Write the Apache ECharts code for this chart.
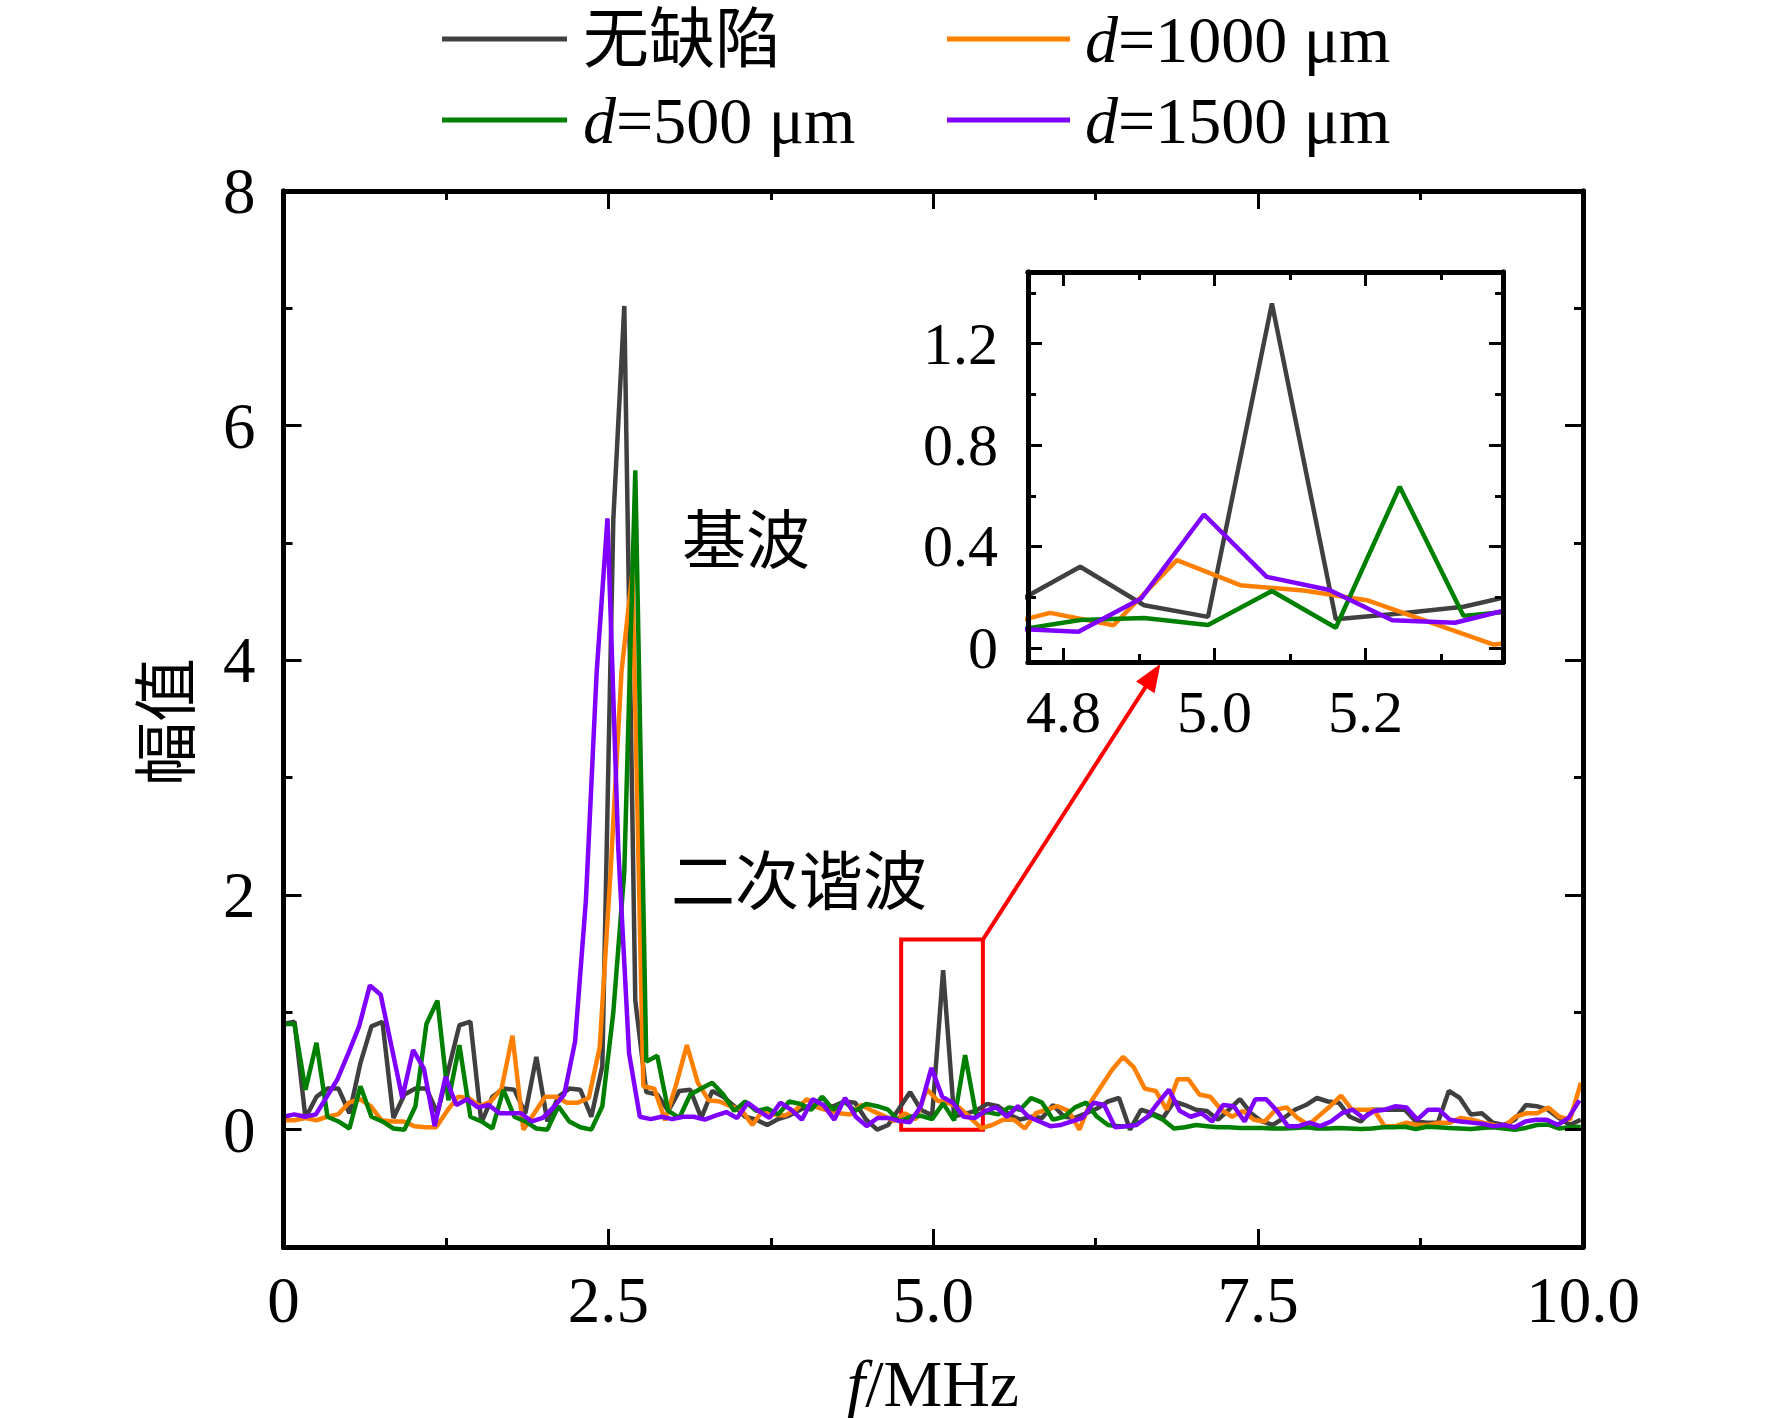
<!DOCTYPE html>
<html>
<head>
<meta charset="utf-8">
<script src="https://cdn.jsdelivr.net/npm/echarts@6/dist/echarts.min.js"></script>
<style>
html,body{margin:0;padding:0;background:#ffffff;}
#chart{width:1772px;height:1418px;}
</style>
</head>
<body>
<div id="chart"></div>
<script>
// ---------------- data ----------------
const seriesNames = ['无缺陷', 'd=1000 μm', 'd=500 μm', 'd=1500 μm'];
const seriesColors = ['#404040', '#FF8000', '#008000', '#8000FF'];
// FFT bin width of each record, MHz per bin (bins start at 0 MHz)
const binWidths = [0.0846, 0.0839, 0.0846, 0.0831];

// amplitude per bin: 无缺陷
const ampNoDefect = [
  0.9, 0.92, 0.1, 0.28, 0.35, 0.35, 0.14, 0.57, 0.88, 0.92,
  0.1, 0.3, 0.35, 0.35, 0.14, 0.51, 0.89, 0.92, 0.06, 0.28,
  0.35, 0.34, 0.14, 0.62, 0.07, 0.28, 0.35, 0.34, 0.11, 0.54,
  5.2, 7.02, 1.1, 0.32, 0.3, 0.16, 0.33, 0.34, 0.1, 0.33,
  0.28, 0.2, 0.11, 0.085, 0.04, 0.09, 0.12, 0.17, 0.21, 0.18,
  0.2, 0.24, 0.23, 0.085, 0.0, 0.04, 0.18, 0.32, 0.168, 0.122,
  1.359, 0.113, 0.135, 0.162, 0.22, 0.2, 0.13, 0.085, 0.11, 0.1,
  0.21, 0.11, 0.1, 0.14, 0.18, 0.24, 0.27, 0.0, 0.17, 0.14,
  0.1, 0.24, 0.21, 0.17, 0.16, 0.085, 0.17, 0.26, 0.14, 0.07,
  0.04, 0.1, 0.17, 0.21, 0.27, 0.24, 0.23, 0.11, 0.07, 0.17,
  0.17, 0.17, 0.17, 0.07, 0.06, 0.06, 0.33, 0.27, 0.13, 0.14,
  0.06, 0.04, 0.085, 0.21, 0.2, 0.17, 0.1, 0.04, 0.085
];
// amplitude per bin: d=1000 μm
const ampD1000 = [
  0.08, 0.08, 0.1, 0.08, 0.11, 0.13, 0.23, 0.26, 0.2, 0.08,
  0.07, 0.07, 0.03, 0.02, 0.02, 0.16, 0.28, 0.27, 0.2, 0.24,
  0.35, 0.8, 0.0, 0.14, 0.28, 0.28, 0.23, 0.23, 0.27, 0.7,
  2.2, 3.9, 4.75, 0.37, 0.35, 0.08, 0.38, 0.72, 0.4, 0.25,
  0.24, 0.2, 0.17, 0.04, 0.17, 0.13, 0.12, 0.17, 0.26, 0.19,
  0.16, 0.14, 0.13, 0.21, 0.16, 0.12, 0.074, 0.138, 0.089, 0.346,
  0.247, 0.226, 0.188, 0.1, 0.013, 0.04, 0.085, 0.085, 0.01, 0.14,
  0.17, 0.2, 0.16, 0.0, 0.23, 0.37, 0.51, 0.62, 0.53, 0.35,
  0.33, 0.17, 0.43, 0.43, 0.3, 0.28, 0.17, 0.11, 0.16, 0.085,
  0.07, 0.17, 0.19, 0.1, 0.04, 0.12, 0.2, 0.29, 0.17, 0.17,
  0.17, 0.03, 0.03, 0.06, 0.04, 0.04, 0.06, 0.06, 0.1, 0.085,
  0.06, 0.04, 0.03, 0.11, 0.14, 0.14, 0.19, 0.11, 0.085, 0.4
];
// amplitude per bin: d=500 μm
const ampD500 = [
  0.9, 0.9, 0.34, 0.74, 0.11, 0.07, 0.01, 0.37, 0.11, 0.07,
  0.01, 0.0, 0.2, 0.9, 1.1, 0.25, 0.72, 0.11, 0.07, 0.01,
  0.34, 0.11, 0.07, 0.01, 0.0, 0.2, 0.07, 0.02, 0.0, 0.2,
  1.0, 2.2, 5.62, 0.58, 0.63, 0.16, 0.1, 0.3, 0.35, 0.4,
  0.3, 0.16, 0.24, 0.16, 0.18, 0.13, 0.24, 0.22, 0.17, 0.28,
  0.17, 0.24, 0.16, 0.22, 0.2, 0.17, 0.07, 0.11, 0.118, 0.09,
  0.224, 0.079, 0.636, 0.126, 0.15, 0.13, 0.19, 0.17, 0.27, 0.23,
  0.085, 0.11, 0.19, 0.23, 0.11, 0.04, 0.03, 0.03, 0.07, 0.13,
  0.085, 0.01, 0.02, 0.04, 0.03, 0.02, 0.02, 0.015, 0.015, 0.015,
  0.01, 0.01, 0.015, 0.02, 0.01, 0.01, 0.015, 0.01, 0.005, 0.01,
  0.02, 0.02, 0.025, 0.005, 0.025, 0.02, 0.015, 0.01, 0.005, 0.015,
  0.02, 0.01, 0.0, 0.015, 0.04, 0.045, 0.01, 0.02, 0.025
];
// amplitude per bin: d=1500 μm
const ampD1500 = [
  0.11, 0.13, 0.11, 0.13, 0.28, 0.43, 0.65, 0.88, 1.23, 1.15,
  0.71, 0.27, 0.68, 0.52, 0.03, 0.45, 0.21, 0.26, 0.19, 0.21,
  0.14, 0.14, 0.14, 0.07, 0.1, 0.19, 0.3, 0.75, 1.95, 3.9,
  5.21, 2.4, 0.65, 0.11, 0.09, 0.11, 0.09, 0.11, 0.11, 0.085,
  0.12, 0.15, 0.1, 0.23, 0.16, 0.1, 0.23, 0.17, 0.085, 0.26,
  0.21, 0.085, 0.27, 0.11, 0.03, 0.1, 0.1, 0.075, 0.063, 0.195,
  0.526, 0.28, 0.228, 0.109, 0.099, 0.16, 0.19, 0.11, 0.2, 0.11,
  0.07, 0.03, 0.04, 0.07, 0.1, 0.23, 0.21, 0.02, 0.03, 0.04,
  0.11, 0.23, 0.34, 0.16, 0.11, 0.14, 0.07, 0.21, 0.2, 0.07,
  0.26, 0.26, 0.16, 0.03, 0.03, 0.06, 0.03, 0.07, 0.14, 0.17,
  0.1, 0.16, 0.17, 0.2, 0.19, 0.085, 0.17, 0.17, 0.085, 0.07,
  0.06, 0.05, 0.03, 0.04, 0.02, 0.07, 0.085, 0.085, 0.04, 0.1, 0.25
];
const amplitudes = [ampNoDefect, ampD1000, ampD500, ampD1500];

// axis ranges and tick values
const mainX = {min: 0, max: 10};
const mainXTicks = [0, 2.5, 5, 7.5, 10];
const mainXMinor = [1.25, 3.75, 6.25, 8.75];
const mainXLabels = ['0', '2.5', '5.0', '7.5', '10.0'];
const mainY = {min: -1, max: 8};
const mainYTicks = [0, 2, 4, 6, 8];
const mainYMinor = [1, 3, 5, 7];
const insetX = {min: 4.753, max: 5.382};
const insetXTicks = [4.8, 5.0, 5.2];
const insetXMinor = [4.9, 5.1, 5.3];
const insetY = {min: -0.056, max: 1.483};
const insetYTicks = [0, 0.4, 0.8, 1.2];
const insetYMinor = [0.2, 0.6, 1.0, 1.4];
const zoomBox = {x0: 4.753, x1: 5.382, y0: 0, y1: 1.62};
const arrowEnd = [6.69, 3.87];
const texts = {xName: '{i|f}/MHz', yName: '幅值', fund: '基波', second: '二次谐波'};

// ---------------- chart ----------------
const FONT = '"Liberation Serif", "Noto Sans CJK SC", serif';
const BLACK = '#000000';

function pairs(amp, df) { return amp.map((v, k) => [k * df, v]); }

function axis(o) {
  const a = {
    type: 'value', gridIndex: o.grid, position: o.pos,
    min: o.min, max: o.max,
    z: o.z || 3,
    axisLine: {show: true, onZero: false, lineStyle: {color: BLACK, width: 5}},
    axisTick: {show: true, inside: true, length: o.len, customValues: o.ticks, lineStyle: {color: BLACK, width: 3}},
    minorTick: {show: false},
    axisLabel: {show: false},
    splitLine: {show: false}, minorSplitLine: {show: false}
  };
  if (o.label) {
    a.axisLabel = {show: true, color: BLACK, fontFamily: FONT, fontSize: o.fs, margin: o.margin,
      customValues: o.ticks, formatter: o.label};
  }
  return a;
}

const xAxes = [
  axis({grid: 0, pos: 'bottom', min: mainX.min, max: mainX.max, ticks: mainXTicks, len: 18,
    fs: 65, margin: 20, label: v => { const i = mainXTicks.findIndex(t => Math.abs(t - v) < 1e-6); return i >= 0 ? mainXLabels[i] : ''; }}),
  axis({grid: 0, pos: 'bottom', min: mainX.min, max: mainX.max, ticks: mainXMinor, len: 9}),
  axis({grid: 0, pos: 'top', min: mainX.min, max: mainX.max, ticks: mainXTicks, len: 18}),
  axis({grid: 0, pos: 'top', min: mainX.min, max: mainX.max, ticks: mainXMinor, len: 9}),
  axis({grid: 1, pos: 'bottom', min: insetX.min, max: insetX.max, ticks: insetXTicks, len: 14, z: 8,
    fs: 60, margin: 20, label: v => v.toFixed(1)}),
  axis({grid: 1, pos: 'bottom', min: insetX.min, max: insetX.max, ticks: insetXMinor, len: 8, z: 8}),
  axis({grid: 1, pos: 'top', min: insetX.min, max: insetX.max, ticks: insetXTicks, len: 14, z: 8}),
  axis({grid: 1, pos: 'top', min: insetX.min, max: insetX.max, ticks: insetXMinor, len: 8, z: 8})
];
const yAxes = [
  axis({grid: 0, pos: 'left', min: mainY.min, max: mainY.max, ticks: mainYTicks, len: 18,
    fs: 65, margin: 28, label: v => String(Math.round(v))}),
  axis({grid: 0, pos: 'left', min: mainY.min, max: mainY.max, ticks: mainYMinor, len: 9}),
  axis({grid: 0, pos: 'right', min: mainY.min, max: mainY.max, ticks: mainYTicks, len: 18}),
  axis({grid: 0, pos: 'right', min: mainY.min, max: mainY.max, ticks: mainYMinor, len: 9}),
  axis({grid: 1, pos: 'left', min: insetY.min, max: insetY.max, ticks: insetYTicks, len: 14, z: 8,
    fs: 60, margin: 30, label: v => (Math.abs(v) < 1e-6 ? '0' : v.toFixed(1))}),
  axis({grid: 1, pos: 'left', min: insetY.min, max: insetY.max, ticks: insetYMinor, len: 8, z: 8}),
  axis({grid: 1, pos: 'right', min: insetY.min, max: insetY.max, ticks: insetYTicks, len: 14, z: 8}),
  axis({grid: 1, pos: 'right', min: insetY.min, max: insetY.max, ticks: insetYMinor, len: 8, z: 8})
];

const series = [];
seriesNames.forEach((name, i) => {
  const data = pairs(amplitudes[i], binWidths[i]);
  series.push({type: 'line', name, xAxisIndex: 0, yAxisIndex: 0, data, symbol: 'none', showSymbol: false,
    lineStyle: {width: 4.5, color: seriesColors[i]}, itemStyle: {color: seriesColors[i]}, z: 2, clip: true});
  series.push({type: 'line', name, xAxisIndex: 4, yAxisIndex: 4, data, symbol: 'none', showSymbol: false,
    lineStyle: {width: 4.5, color: seriesColors[i]}, itemStyle: {color: seriesColors[i]}, z: 6, clip: true});
});
series.push({
  type: 'line', name: 'marks', xAxisIndex: 0, yAxisIndex: 0, data: [], silent: true, z: 4,
  markArea: {silent: true, itemStyle: {color: 'rgba(0,0,0,0)', borderColor: '#FF0000', borderWidth: 4},
    label: {show: false},
    data: [[{coord: [zoomBox.x0, zoomBox.y0]}, {coord: [zoomBox.x1, zoomBox.y1]}]]},
  markLine: {silent: true, symbol: ['none', 'triangle'], symbolSize: [22, 28], animation: false,
    lineStyle: {color: '#FF0000', width: 4, type: 'solid'}, label: {show: false},
    data: [[{coord: [zoomBox.x1, zoomBox.y1]}, {coord: arrowEnd}]]}
});

const legendText = {
  color: BLACK, fontFamily: FONT, fontSize: 66, lineHeight: 72,
  rich: {i: {fontStyle: 'italic', fontFamily: FONT, fontSize: 66, lineHeight: 72, color: BLACK}}
};
function legendFmt(name) { return name.indexOf('d=') === 0 ? '{i|d}' + name.slice(1) : name; }

const option = {
  backgroundColor: '#ffffff',
  animation: false,
  grid: [
    {left: 283.5, top: 191, width: 1299.5, height: 1056, show: false, containLabel: false, outerBoundsMode: 'none'},
    {left: 1028, top: 272, width: 475, height: 390, show: true, backgroundColor: '#ffffff', borderWidth: 0, z: 5, containLabel: false, outerBoundsMode: 'none'}
  ],
  legend: [
    {data: [seriesNames[0], seriesNames[2]], left: 437, top: -2, orient: 'vertical', icon: 'rect',
      itemWidth: 125, itemHeight: 5, itemGap: 9, formatter: legendFmt,
      textStyle: Object.assign({padding: [0, 0, 0, 11]}, legendText), selectedMode: false},
    {data: [seriesNames[1], seriesNames[3]], left: 942, top: -2, orient: 'vertical', icon: 'rect',
      itemWidth: 123, itemHeight: 5, itemGap: 9, formatter: legendFmt,
      textStyle: Object.assign({padding: [0, 0, 0, 10]}, legendText), selectedMode: false}
  ],
  xAxis: xAxes,
  yAxis: yAxes,
  series: series,
  graphic: [
    {type: 'text', x: 933, y: 1383, z: 10, style: {text: texts.xName, align: 'center', verticalAlign: 'middle',
      fontFamily: FONT, fontSize: 66, fill: BLACK,
      rich: {i: {fontStyle: 'italic', fontFamily: FONT, fontSize: 66, fill: BLACK}}}},
    {type: 'text', x: 167, y: 722, rotation: Math.PI / 2, z: 10, style: {text: texts.yName, align: 'center', verticalAlign: 'middle',
      fontFamily: FONT, fontSize: 64, fill: BLACK}},
    {type: 'text', x: 746, y: 541, z: 10, style: {text: texts.fund, align: 'center', verticalAlign: 'middle',
      fontFamily: FONT, fontSize: 64, fill: BLACK}},
    {type: 'text', x: 799, y: 882, z: 10, style: {text: texts.second, align: 'center', verticalAlign: 'middle',
      fontFamily: FONT, fontSize: 64, fill: BLACK}}
  ]
};

const chart = echarts.init(document.getElementById('chart'), null, {renderer: 'svg', width: 1772, height: 1418});
chart.setOption(option);
</script>
</body>
</html>
